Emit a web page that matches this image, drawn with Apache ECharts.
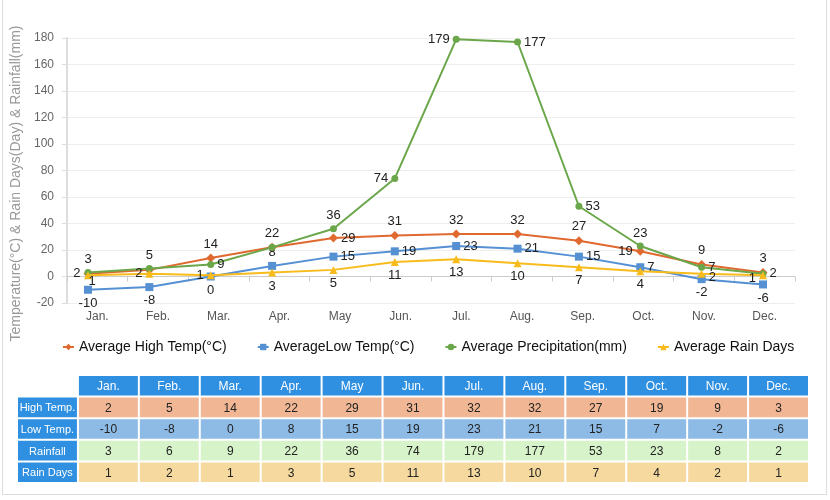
<!DOCTYPE html>
<html>
<head>
<meta charset="utf-8">
<script src="https://cdn.jsdelivr.net/npm/echarts@6/dist/echarts.min.js"></script>
<style>
html,body{margin:0;padding:0;background:#fff;}
#frame{position:absolute;left:2px;top:-1px;width:825px;height:496px;border:1px solid #ddd;box-sizing:border-box;}
#chart{position:absolute;left:0;top:0;width:830px;height:500px;}
</style>
</head>
<body>
<div id="frame"></div>
<div id="chart"></div>
<script>
// ---- data ----
const months = ['Jan.','Feb.','Mar.','Apr.','May','Jun.','Jul.','Aug.','Sep.','Oct.','Nov.','Dec.'];
const highTemp = [2,5,14,22,29,31,32,32,27,19,9,3];
const lowTemp = [-10,-8,0,8,15,19,23,21,15,7,-2,-6];
const precipitation = [3,6,9,22,36,74,179,177,53,23,7,2];
const rainDays = [1,2,1,3,5,11,13,10,7,4,2,1];
const tableHigh = [2,5,14,22,29,31,32,32,27,19,9,3];
const tableLow = [-10,-8,0,8,15,19,23,21,15,7,-2,-6];
const tableRainfall = [3,6,9,22,36,74,179,177,53,23,8,2];
const tableRainDays = [1,2,1,3,5,11,13,10,7,4,2,1];
const rowNames = ['High Temp.','Low Temp.','Rainfall','Rain Days'];
const seriesNames = ['Average High Temp(°C)','AverageLow Temp(°C)','Average Precipitation(mm)','Average Rain Days'];
const yAxisName = 'Temperature(°C) & Rain Days(Day) & Rainfall(mm)';

// ---- label placement (style) ----
const highPos = ['left','top','top','top','right','top','top','top','top','left','top','top'];
const lowPos = ['bottom','bottom','bottom','top','right','right','right','right','right','right','bottom','bottom'];
const precipPos = ['top',null,'right',null,'top','left','left','right','right','top','right','right'];
const daysPos = ['bottom','left','left','bottom','bottom','bottom','bottom','bottom','bottom','bottom','right','left'];
const daysOffset = [[4,-7],null,null,null,null,null,null,null,null,null,[0,4],[0,3]];

const colors = ['#E0692F','#5590D3','#6BA74A','#F7BB1B'];
const rowColors = ['#F1B795','#8DBBE6','#D7F3C9','#F5D99F'];
const headBlue = '#2F8FE0';

function withLabels(vals, pos, offs){
  return vals.map((v,i)=> {
    if (!pos[i]) return {value:v, label:{show:false}};
    const lab = {show:true, position:pos[i]};
    if (offs && offs[i]) lab.offset = offs[i];
    return {value:v, label:lab};
  });
}

function lineSeries(idx, vals, pos, symbol, size, offs){
  return {
    name: seriesNames[idx], type:'line', xAxisIndex:1, yAxisIndex:1,
    data: withLabels(vals,pos,offs), symbol: symbol, symbolSize: size,
    itemStyle:{color:colors[idx]}, lineStyle:{width:2,color:colors[idx]},
    label:{show:true, color:'#222', fontSize:13, fontFamily:'Arial', distance:3},
    z: 3 + idx
  };
}

// table cells
const tableRows = [tableHigh, tableLow, tableRainfall, tableRainDays];
const cells = [];
months.forEach((m,i)=> cells.push({x:i+1, y:0, text:m, kind:'head'}));
rowNames.forEach((r,j)=> cells.push({x:0, y:j+1, text:r, kind:'rowhead'}));
tableRows.forEach((row,j)=> row.forEach((v,i)=> cells.push({x:i+1, y:j+1, text:String(v), kind:j})));

const chart = echarts.init(document.getElementById('chart'), null, {renderer:'canvas'});
chart.setOption({
  animation:false,
  textStyle:{fontFamily:'Arial'},
  legend:{
    data: seriesNames, left:57, top:335, itemGap:30, itemWidth:11, itemHeight:8,
    textStyle:{fontSize:14, color:'#111', fontFamily:'Arial'}
  },
  grid:[
    {left:67, right:35, top:38, bottom:197, containLabel:false},
    {left:88, right:67, top:38, bottom:197, containLabel:false},
    {left:17, right:21, top:375, bottom:17, containLabel:false}
  ],
  xAxis:[
    {gridIndex:0, type:'category', data:months, boundaryGap:true,
     axisLine:{lineStyle:{color:'#ccc'}}, axisTick:{show:true,length:5,lineStyle:{color:'#ccc'}},
     axisLabel:{color:'#555', fontSize:12, margin:8}},
    {gridIndex:1, type:'category', data:months, boundaryGap:false, show:false},
    {gridIndex:2, type:'category', data:['', ...months], show:false}
  ],
  yAxis:[
    {gridIndex:0, type:'value', min:-20, max:180, interval:20,
     axisLine:{show:true, lineStyle:{color:'#ddd', width:2}},
     axisTick:{show:true, length:5, lineStyle:{color:'#ddd'}},
     splitLine:{lineStyle:{color:'#eee'}},
     axisLabel:{color:'#666', fontSize:12, margin:13},
     name: yAxisName, nameLocation:'middle', nameGap:36,
     nameTextStyle:{color:'#999', fontSize:14, fontFamily:'Arial', padding:[0,26,0,0]}},
    {gridIndex:1, type:'value', min:-20, max:180, show:false},
    {gridIndex:2, type:'category', data:['head', ...rowNames], inverse:true, show:false}
  ],
  series:[
    lineSeries(0, highTemp, highPos, 'diamond', 9),
    lineSeries(1, lowTemp, lowPos, 'rect', 8),
    lineSeries(2, precipitation, precipPos, 'circle', 7),
    lineSeries(3, rainDays, daysPos, 'triangle', 8, daysOffset),
    {
      type:'custom', xAxisIndex:2, yAxisIndex:2, silent:true,
      data: cells.map(c=>[c.x, c.y]),
      renderItem: function(params, api){
        const c = cells[params.dataIndex];
        const p = api.coord([api.value(0), api.value(1)]);
        const s = api.size([1,1]);
        let fill, tc = '#222', fs = 12;
        if (c.kind==='head'){ fill = headBlue; tc = '#fff'; fs = 12; }
        else if (c.kind==='rowhead'){ fill = headBlue; tc = '#fff'; fs = 11; }
        else { fill = rowColors[c.kind]; }
        return {
          type:'group',
          children:[
            {type:'rect', shape:{x:p[0]-s[0]/2+1, y:p[1]-s[1]/2+1, width:s[0]-2, height:s[1]-2}, style:{fill:fill}},
            {type:'text', style:{x:p[0], y:p[1]+1, text:c.text, fill:tc, fontSize:fs, fontFamily:'Arial', align:'center', verticalAlign:'middle'}}
          ]
        };
      }
    }
  ]
});
</script>
</body>
</html>
